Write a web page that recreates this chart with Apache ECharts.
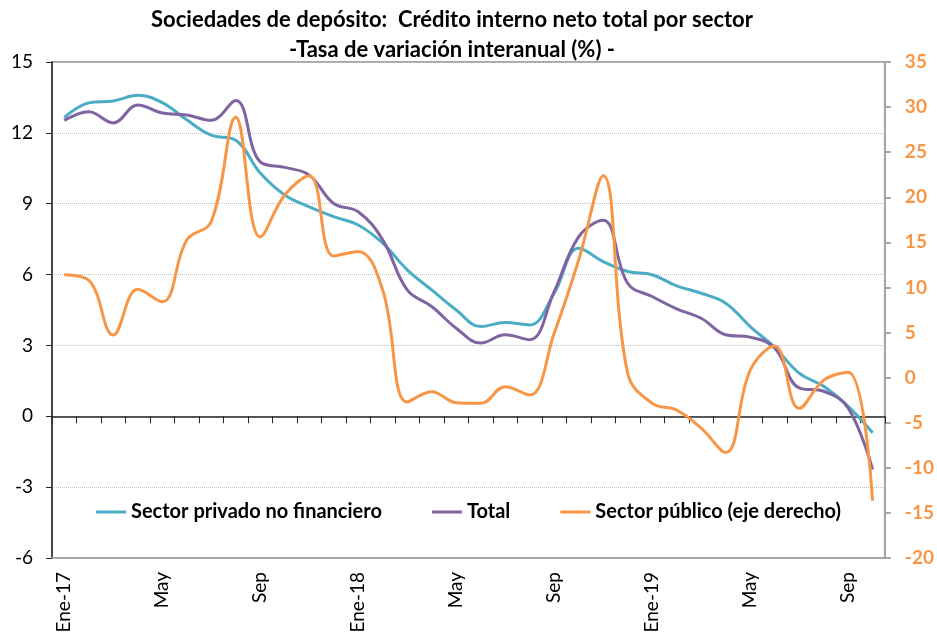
<!DOCTYPE html>
<html>
<head>
<meta charset="utf-8">
<script src="https://cdn.jsdelivr.net/npm/echarts@6/dist/echarts.min.js"></script>
<style>
  html, body { margin: 0; padding: 0; background: #fff; }
  #chart { width: 937px; height: 636px; }
</style>
</head>
<body>
<div id="chart"></div>
<script>
var meses = ['Ene-17','Feb','Mar','Abr','May','Jun','Jul','Ago','Sep','Oct','Nov','Dic',
             'Ene-18','Feb','Mar','Abr','May','Jun','Jul','Ago','Sep','Oct','Nov','Dic',
             'Ene-19','Feb','Mar','Abr','May','Jun','Jul','Ago','Sep','Oct'];
var privado = [12.65, 13.27, 13.35, 13.59, 13.28, 12.55, 11.9, 11.69, 10.3, 9.37, 8.87, 8.45,
               8.1, 7.33, 6.2, 5.35, 4.5, 3.8, 3.97, 3.87, 5.21, 7.11, 6.55, 6.13,
               5.99, 5.52, 5.21, 4.79, 3.8, 2.92, 1.83, 1.27, 0.42, -0.7];
var total = [12.53, 12.89, 12.42, 13.18, 12.84, 12.76, 12.53, 13.37, 10.77, 10.54, 10.21, 9.01,
             8.66, 7.47, 5.35, 4.65, 3.73, 3.1, 3.45, 3.24, 5.28, 7.6, 8.3, 5.63,
             5.07, 4.55, 4.15, 3.45, 3.35, 2.89, 1.2, 1.06, 0.35, -2.25];
var publico = [11.4, 10.8, 4.72, 9.79, 8.42, 15.26, 17.3, 28.86, 15.6, 20.25, 22.4, 13.5,
               14.0, 9.71, -2.7, -1.56, -2.78, -2.85, -1.0, -1.93, 4.91, 13.04, 22.4, 0.48,
               -2.85, -3.6, -5.6, -8.3, 0.8, 3.5, -3.4, -0.3, 0.6, -13.65];

var fuente = 'Lato, "Open Sans", sans-serif';
var myChart = echarts.init(document.getElementById('chart'));
var option = {
  animation: false,
  color: ['#4BACC6', '#8064A2', '#F79646'],
  title: {
    text: 'Sociedades de depósito:  Crédito interno neto total por sector\n-Tasa de variación interanual (%) -',
    left: 447,
    top: 0,
    textAlign: 'center',
    textStyle: {
      fontFamily: fuente,
      fontWeight: 'bold',
      fontSize: 22,
      lineHeight: 30,
      color: '#000'
    }
  },
  legend: {
    left: 91,
    top: 497,
    icon: 'rect',
    itemWidth: 30,
    itemHeight: 3,
    itemGap: 50,
    textStyle: { fontFamily: fuente, fontWeight: 'bold', fontSize: 20, color: '#000' },
    data: ['Sector privado no financiero', 'Total', 'Sector público (eje derecho)']
  },
  grid: {
    left: 52, right: 52, top: 62, bottom: 78,
    show: true, borderColor: '#a6a6a6', borderWidth: 2
  },
  xAxis: [
    {
      type: 'category',
      data: meses,
      boundaryGap: true,
      axisLine: { onZero: true, lineStyle: { color: '#262626', width: 1.5 } },
      axisTick: { show: true, interval: 0, length: 7, lineStyle: { color: '#262626' } },
      axisLabel: { show: false },
      splitLine: { show: false }
    },
    {
      type: 'category',
      data: meses,
      position: 'bottom',
      boundaryGap: true,
      axisLine: { show: true, onZero: false, lineStyle: { color: '#a6a6a6', width: 2 } },
      axisTick: { show: false },
      axisLabel: {
        interval: 3, rotate: 90, margin: 14,
        fontFamily: fuente, fontSize: 19, color: '#000'
      },
      splitLine: { show: false }
    }
  ],
  yAxis: [
    {
      type: 'value',
      min: -6, max: 15, interval: 3,
      axisLine: { show: true, lineStyle: { color: '#262626', width: 1.5 } },
      axisTick: { show: true, length: 6, lineStyle: { color: '#262626' } },
      axisLabel: { margin: 19, fontFamily: fuente, fontSize: 19, color: '#000' },
      splitLine: { show: true, lineStyle: { type: 'dotted', color: '#bfbfbf', width: 1 } }
    },
    {
      type: 'value',
      position: 'right',
      min: -20, max: 35, interval: 5,
      axisLine: { show: true, lineStyle: { color: '#a6a6a6', width: 2 } },
      axisTick: { show: true, length: 6, lineStyle: { color: '#a6a6a6', width: 2 } },
      axisLabel: { margin: 20, fontFamily: fuente, fontSize: 19, fontWeight: 'bold', color: '#F79646' },
      splitLine: { show: false }
    }
  ],
  series: [
    {
      name: 'Sector privado no financiero', type: 'line', smooth: 0.4,
      yAxisIndex: 0, showSymbol: false, lineStyle: { width: 3 },
      data: privado
    },
    {
      name: 'Total', type: 'line', smooth: 0.4,
      yAxisIndex: 0, showSymbol: false, lineStyle: { width: 3 },
      data: total
    },
    {
      name: 'Sector público (eje derecho)', type: 'line', smooth: 0.4,
      yAxisIndex: 1, showSymbol: false, lineStyle: { width: 3 },
      data: publico
    }
  ]
};
myChart.setOption(option);
</script>
</body>
</html>
